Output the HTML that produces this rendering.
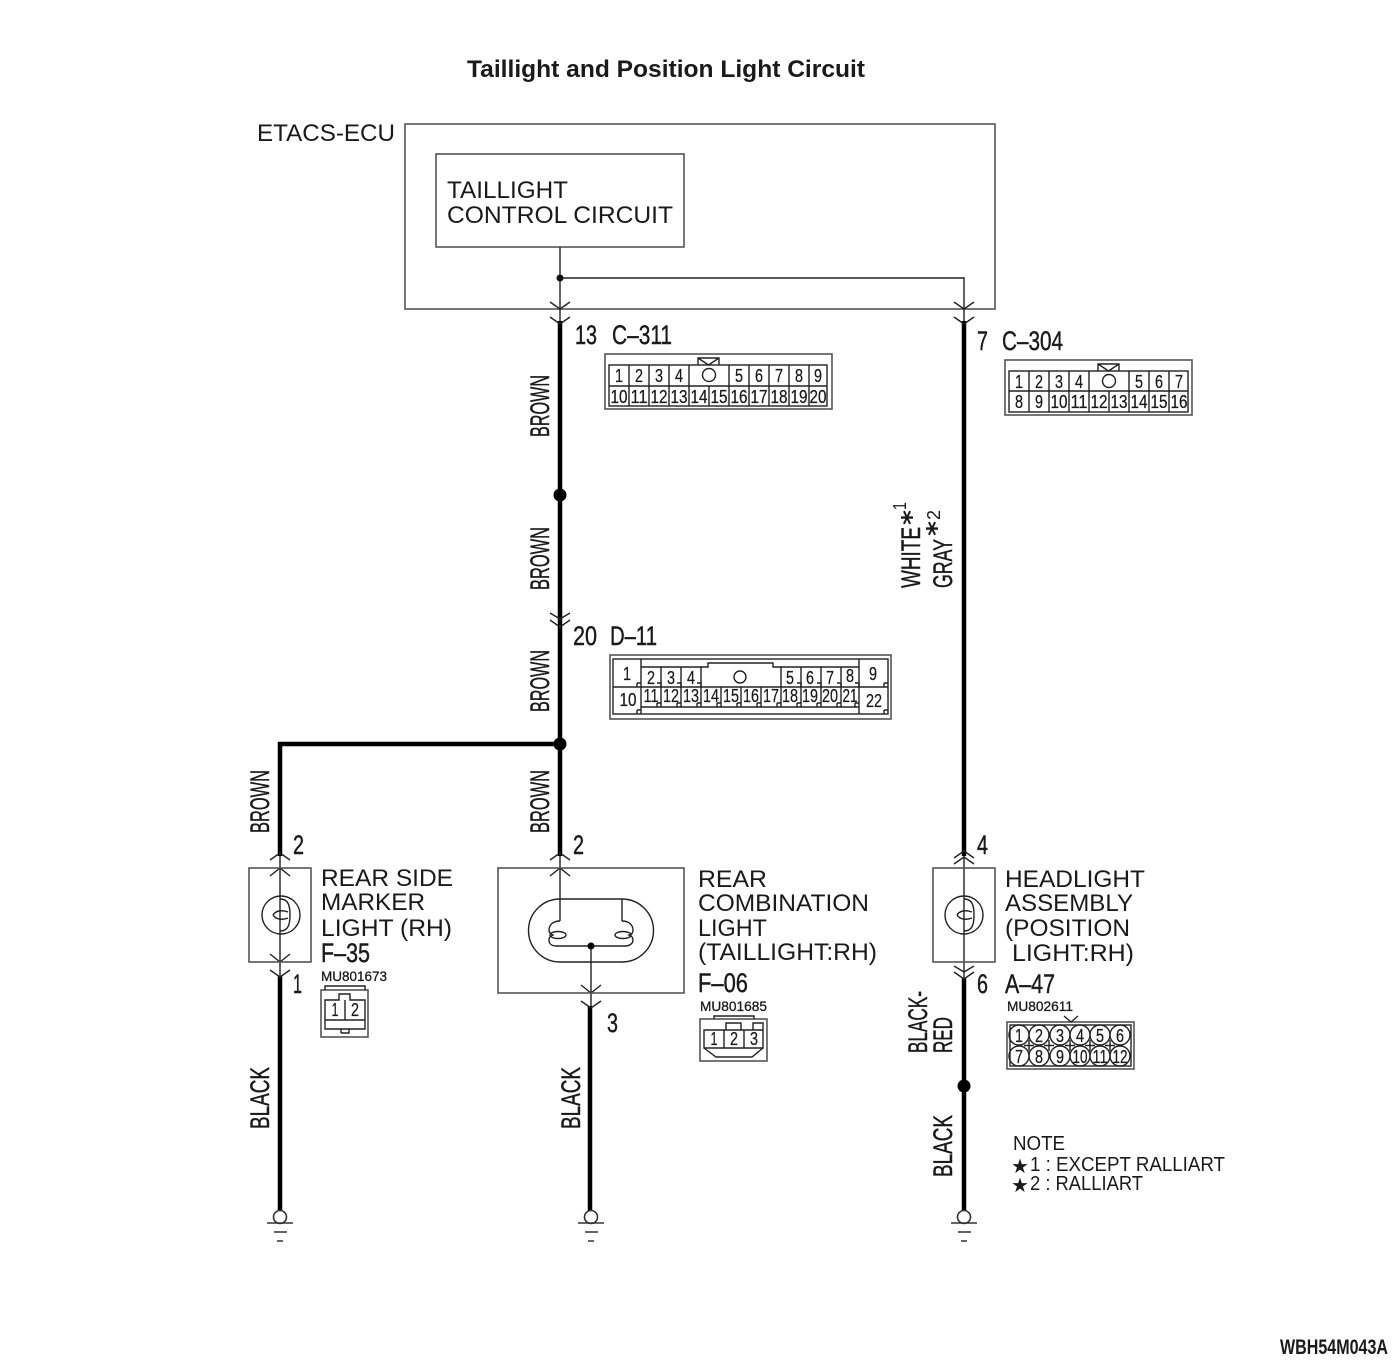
<!DOCTYPE html>
<html><head><meta charset="utf-8"><title>Taillight and Position Light Circuit</title>
<style>
html,body{margin:0;padding:0;background:#fff}
svg{display:block}
text{font-family:"Liberation Sans","DejaVu Sans",sans-serif;fill:#1a1a1a}
.t{font-size:24px}
.c{font-size:27px;stroke:#1a1a1a;stroke-width:.45}
.n{font-size:18px;text-anchor:middle;stroke:#1a1a1a;stroke-width:.25}
.m{font-size:14px;stroke:#1a1a1a;stroke-width:.3}
.l{fill:none;stroke:#333;stroke-width:1.4}
.w{fill:none;stroke:#000;stroke-width:4.5}
.s{fill:none;stroke:#222;stroke-width:1.4}
.g{fill:none;stroke:#555;stroke-width:1.6}
</style></head><body>
<svg width="1400" height="1367" viewBox="0 0 1400 1367" xmlns="http://www.w3.org/2000/svg">
<text x="467" y="77" font-size="24" font-weight="bold" textLength="398" lengthAdjust="spacingAndGlyphs">Taillight and Position Light Circuit</text>
<text class="t" x="257" y="141" textLength="138" lengthAdjust="spacingAndGlyphs">ETACS-ECU</text>
<rect class="g" x="405" y="124" width="590" height="185"/>
<rect class="g" x="436" y="154" width="248" height="93"/>
<text class="t" x="447" y="198" textLength="121" lengthAdjust="spacingAndGlyphs">TAILLIGHT</text>
<text class="t" x="447" y="223" textLength="226" lengthAdjust="spacingAndGlyphs">CONTROL CIRCUIT</text>

<!-- thin wires -->
<path class="s" d="M560 247V323M560 278H964V323M560 853V921M280 853V976M964 851V979M591 946V1007"/>
<circle cx="560" cy="278" r="3.500" fill="#111"/>
<!-- thick wires -->
<path class="w" d="M560 321V744M280 856V744H560M560 744V856M964 321V856M280 976V1212M590 1006V1212M964 978V1212"/>
<circle cx="560" cy="495" r="6.500" fill="#000"/><circle cx="560" cy="744" r="6.500" fill="#000"/><circle cx="964" cy="1086" r="6.500" fill="#000"/>
<!-- chevrons -->
<path class="s" d="M550 302L560 309L570 302M550 317L560 324L570 317M954 302L964 309L974 302M954 317L964 324L974 317M550 613L560 619L570 613M550 620L560 627L570 620"/>
<path class="s" d="M270 860L280 853L290 860M270 876L280 868L290 876M550 860L560 853L570 860M550 876L560 868L570 876M954 858L964 851L974 858M954 864L964 857L974 864"/>
<path class="s" d="M270 954L280 962L290 954M270 970L280 977L290 970M581 985L591 993L601 985M581 1001L591 1008L601 1001M954 966L964 972L974 966M954 972L964 979L974 972"/>

<!-- C-311 -->
<text class="c" x="575" y="344" textLength="22" lengthAdjust="spacingAndGlyphs">13</text>
<text class="c" x="612" y="344" textLength="60" lengthAdjust="spacingAndGlyphs">C–311</text>
<rect class="g" x="605" y="354" width="227" height="55"/>
<path class="s" d="M698 365V358H719V365M698 358L708.500 365L719 358"/>
<rect class="s" x="609" y="365" width="218" height="41"/>
<path class="s" d="M609 386H827M629 365V406M649 365V406M669 365V406M689 365V406M709 386V406M729 365V406M749 365V406M769 365V406M789 365V406M809 365V406"/>
<circle class="s" cx="709" cy="375" r="6.500"/>
<g>
<text class="n" x="619" y="382" textLength="8" lengthAdjust="spacingAndGlyphs">1</text><text class="n" x="639" y="382" textLength="8" lengthAdjust="spacingAndGlyphs">2</text><text class="n" x="659" y="382" textLength="8" lengthAdjust="spacingAndGlyphs">3</text><text class="n" x="679" y="382" textLength="8" lengthAdjust="spacingAndGlyphs">4</text><text class="n" x="739" y="382" textLength="8" lengthAdjust="spacingAndGlyphs">5</text><text class="n" x="759" y="382" textLength="8" lengthAdjust="spacingAndGlyphs">6</text><text class="n" x="779" y="382" textLength="8" lengthAdjust="spacingAndGlyphs">7</text><text class="n" x="799" y="382" textLength="8" lengthAdjust="spacingAndGlyphs">8</text><text class="n" x="818" y="382" textLength="8" lengthAdjust="spacingAndGlyphs">9</text>
<text class="n" x="619" y="403" textLength="17" lengthAdjust="spacingAndGlyphs">10</text><text class="n" x="639" y="403" textLength="17" lengthAdjust="spacingAndGlyphs">11</text><text class="n" x="659" y="403" textLength="17" lengthAdjust="spacingAndGlyphs">12</text><text class="n" x="679" y="403" textLength="17" lengthAdjust="spacingAndGlyphs">13</text><text class="n" x="699" y="403" textLength="17" lengthAdjust="spacingAndGlyphs">14</text><text class="n" x="719" y="403" textLength="17" lengthAdjust="spacingAndGlyphs">15</text><text class="n" x="739" y="403" textLength="17" lengthAdjust="spacingAndGlyphs">16</text><text class="n" x="759" y="403" textLength="17" lengthAdjust="spacingAndGlyphs">17</text><text class="n" x="779" y="403" textLength="17" lengthAdjust="spacingAndGlyphs">18</text><text class="n" x="799" y="403" textLength="17" lengthAdjust="spacingAndGlyphs">19</text><text class="n" x="818" y="403" textLength="17" lengthAdjust="spacingAndGlyphs">20</text>
</g>

<!-- C-304 -->
<text class="c" x="977" y="350" textLength="11" lengthAdjust="spacingAndGlyphs">7</text>
<text class="c" x="1002" y="350" textLength="61" lengthAdjust="spacingAndGlyphs">C–304</text>
<rect class="g" x="1005" y="360" width="187" height="55"/>
<path class="s" d="M1098 371V364H1119V371M1098 364L1108.500 371L1119 364"/>
<rect class="s" x="1009" y="371" width="179" height="41"/>
<path class="s" d="M1009 391H1188M1029 371V412M1049 371V412M1069 371V412M1089 371V412M1109 391V412M1129 371V412M1149 371V412M1169 371V412"/>
<circle class="s" cx="1109" cy="381" r="6.500"/>
<g>
<text class="n" x="1019" y="388" textLength="8" lengthAdjust="spacingAndGlyphs">1</text><text class="n" x="1039" y="388" textLength="8" lengthAdjust="spacingAndGlyphs">2</text><text class="n" x="1059" y="388" textLength="8" lengthAdjust="spacingAndGlyphs">3</text><text class="n" x="1079" y="388" textLength="8" lengthAdjust="spacingAndGlyphs">4</text><text class="n" x="1139" y="388" textLength="8" lengthAdjust="spacingAndGlyphs">5</text><text class="n" x="1159" y="388" textLength="8" lengthAdjust="spacingAndGlyphs">6</text><text class="n" x="1179" y="388" textLength="8" lengthAdjust="spacingAndGlyphs">7</text>
<text class="n" x="1019" y="408" textLength="8" lengthAdjust="spacingAndGlyphs">8</text><text class="n" x="1039" y="408" textLength="8" lengthAdjust="spacingAndGlyphs">9</text><text class="n" x="1059" y="408" textLength="17" lengthAdjust="spacingAndGlyphs">10</text><text class="n" x="1079" y="408" textLength="17" lengthAdjust="spacingAndGlyphs">11</text><text class="n" x="1099" y="408" textLength="17" lengthAdjust="spacingAndGlyphs">12</text><text class="n" x="1119" y="408" textLength="17" lengthAdjust="spacingAndGlyphs">13</text><text class="n" x="1139" y="408" textLength="17" lengthAdjust="spacingAndGlyphs">14</text><text class="n" x="1159" y="408" textLength="17" lengthAdjust="spacingAndGlyphs">15</text><text class="n" x="1179" y="408" textLength="17" lengthAdjust="spacingAndGlyphs">16</text>
</g>

<!-- D-11 -->
<text class="c" x="573" y="645" textLength="24" lengthAdjust="spacingAndGlyphs">20</text>
<text class="c" x="610" y="645" textLength="47" lengthAdjust="spacingAndGlyphs">D–11</text>
<rect class="g" x="610" y="655" width="281" height="64"/>
<rect class="s" x="613" y="659" width="275" height="55"/>
<path class="s" d="M641 659V714M859 659V714M613 687H641M859 687H888M641 667H708V663H773V667H859M641 707H859M641 687H699M781 687H859M699 687H781"/>
<path class="s" d="M661 667V707M681 667V707M701 667V707M721 687V707M741 687V707M761 687V707M781 667V707M801 667V707M821 667V707M841 667V707"/>
<path class="s" d="M637 683H641M637 683V687M637 710H641M637 710V714M884 683H888M884 683V687M884 710H888M884 710V714M657 683H661V687M677 683H681V687M697 683H701V687M797 683H801V687M817 683H821V687M837 683H841V687M855 683H859V687M657 703H661M677 703H681M697 703H701M717 703H721M737 703H741M757 703H761M777 703H781M797 703H801M817 703H821M837 703H841M855 703H859M657 703V707M677 703V707M697 703V707M717 703V707M737 703V707M757 703V707M777 703V707M797 703V707M817 703V707M837 703V707M855 703V707"/>
<circle class="s" cx="740" cy="677" r="6"/>
<g>
<text class="n" x="627" y="680" textLength="8" lengthAdjust="spacingAndGlyphs">1</text><text class="n" x="651" y="684" textLength="8" lengthAdjust="spacingAndGlyphs">2</text><text class="n" x="671" y="684" textLength="8" lengthAdjust="spacingAndGlyphs">3</text><text class="n" x="691" y="684" textLength="8" lengthAdjust="spacingAndGlyphs">4</text><text class="n" x="790" y="684" textLength="8" lengthAdjust="spacingAndGlyphs">5</text><text class="n" x="810" y="684" textLength="8" lengthAdjust="spacingAndGlyphs">6</text><text class="n" x="830" y="684" textLength="8" lengthAdjust="spacingAndGlyphs">7</text><text class="n" x="850" y="682" textLength="8" lengthAdjust="spacingAndGlyphs">8</text><text class="n" x="873" y="680" textLength="8" lengthAdjust="spacingAndGlyphs">9</text>
<text class="n" x="628" y="706" textLength="17" lengthAdjust="spacingAndGlyphs">10</text><text class="n" x="651" y="702" textLength="15" lengthAdjust="spacingAndGlyphs">11</text><text class="n" x="671" y="702" textLength="16" lengthAdjust="spacingAndGlyphs">12</text><text class="n" x="691" y="702" textLength="16" lengthAdjust="spacingAndGlyphs">13</text><text class="n" x="711" y="702" textLength="16" lengthAdjust="spacingAndGlyphs">14</text><text class="n" x="731" y="702" textLength="16" lengthAdjust="spacingAndGlyphs">15</text><text class="n" x="751" y="702" textLength="16" lengthAdjust="spacingAndGlyphs">16</text><text class="n" x="771" y="702" textLength="16" lengthAdjust="spacingAndGlyphs">17</text><text class="n" x="790" y="702" textLength="16" lengthAdjust="spacingAndGlyphs">18</text><text class="n" x="810" y="702" textLength="16" lengthAdjust="spacingAndGlyphs">19</text><text class="n" x="830" y="702" textLength="16" lengthAdjust="spacingAndGlyphs">20</text><text class="n" x="850" y="702" textLength="15" lengthAdjust="spacingAndGlyphs">21</text><text class="n" x="874" y="707" textLength="16" lengthAdjust="spacingAndGlyphs">22</text>
</g>

<!-- vertical labels -->
<text class="c" transform="translate(549,437) rotate(-90)" textLength="62" lengthAdjust="spacingAndGlyphs">BROWN</text>
<text class="c" transform="translate(549,590) rotate(-90)" textLength="63" lengthAdjust="spacingAndGlyphs">BROWN</text>
<text class="c" transform="translate(549,712) rotate(-90)" textLength="62" lengthAdjust="spacingAndGlyphs">BROWN</text>
<text class="c" transform="translate(549,833) rotate(-90)" textLength="63" lengthAdjust="spacingAndGlyphs">BROWN</text>
<text class="c" transform="translate(269,833) rotate(-90)" textLength="63" lengthAdjust="spacingAndGlyphs">BROWN</text>
<text class="c" transform="translate(269,1129) rotate(-90)" textLength="62" lengthAdjust="spacingAndGlyphs">BLACK</text>
<text class="c" transform="translate(580,1129) rotate(-90)" textLength="62" lengthAdjust="spacingAndGlyphs">BLACK</text>
<text class="c" transform="translate(952,1177) rotate(-90)" textLength="62" lengthAdjust="spacingAndGlyphs">BLACK</text>
<text class="c" transform="translate(927,1053) rotate(-90)" textLength="62" lengthAdjust="spacingAndGlyphs">BLACK-</text>
<text class="c" transform="translate(952,1053) rotate(-90)" textLength="36" lengthAdjust="spacingAndGlyphs">RED</text>
<text class="c" transform="translate(920,588) rotate(-90)" textLength="61" lengthAdjust="spacingAndGlyphs">WHITE</text>
<text font-size="26" font-weight="bold" transform="translate(920,525) rotate(-90)" style="font-family:'DejaVu Sans',sans-serif" textLength="15" lengthAdjust="spacingAndGlyphs">*</text>
<text font-size="18" transform="translate(906,510) rotate(-90)" textLength="8" lengthAdjust="spacingAndGlyphs">1</text>
<text class="c" transform="translate(952,588) rotate(-90)" textLength="49" lengthAdjust="spacingAndGlyphs">GRAY</text>
<text font-size="26" font-weight="bold" transform="translate(945,536) rotate(-90)" style="font-family:'DejaVu Sans',sans-serif" textLength="15" lengthAdjust="spacingAndGlyphs">*</text>
<text font-size="18" transform="translate(940,520) rotate(-90)" textLength="10" lengthAdjust="spacingAndGlyphs">2</text>

<!-- rear side marker -->
<text class="c" x="293" y="854" textLength="11" lengthAdjust="spacingAndGlyphs">2</text>
<text class="c" x="293" y="993" textLength="9" lengthAdjust="spacingAndGlyphs">1</text>
<rect class="g" x="249" y="868" width="62" height="94"/>
<circle class="s" cx="281" cy="915" r="19"/>
<path class="s" d="M280 899C288 899 290 905 290 915C290 925 288 931 280 931"/>
<path class="s" d="M273 915C276 910 283 910 288 912M273 915C276 920 283 920 288 918"/>
<text class="t" x="321" y="886" textLength="132" lengthAdjust="spacingAndGlyphs">REAR SIDE</text>
<text class="t" x="321" y="910" textLength="104" lengthAdjust="spacingAndGlyphs">MARKER</text>
<text class="t" x="321" y="936" textLength="131" lengthAdjust="spacingAndGlyphs">LIGHT (RH)</text>
<text class="c" x="321" y="962" textLength="49" lengthAdjust="spacingAndGlyphs">F–35</text>
<text class="m" x="321" y="981" textLength="66" lengthAdjust="spacingAndGlyphs">MU801673</text>
<rect class="g" x="321" y="990" width="47" height="47"/>
<path class="s" d="M325 990V986H365V990M325 1000H339V994H350V1000H365V1020H325ZM345 1000V1020M325 1020V1029H365V1020M341 1033H349V1029M341 1033V1029"/>
<text class="n" x="335" y="1016" textLength="7" lengthAdjust="spacingAndGlyphs">1</text>
<text class="n" x="355" y="1016" textLength="8" lengthAdjust="spacingAndGlyphs">2</text>

<!-- rear combination -->
<text class="c" x="573" y="854" textLength="11" lengthAdjust="spacingAndGlyphs">2</text>
<text class="c" x="607" y="1032" textLength="11" lengthAdjust="spacingAndGlyphs">3</text>
<rect class="g" x="498" y="868" width="186" height="125"/>
<rect class="s" x="528.500" y="899" width="125" height="63" rx="31.500"/>
<path class="s" d="M622 899V921"/>
<path class="s" d="M560 921C553 921 549 925 549 930C549 933 551 934 553 935C549 937 549 938 549 940C549 944 552 946 556 946H625C629 946 633 944 633 940C633 938 632 936 629 935C632 934 633 933 633 930C633 925 629 921 622 921"/>
<ellipse class="s" cx="558" cy="935" rx="8" ry="3.500"/><ellipse class="s" cx="623" cy="935" rx="8" ry="3.500"/>
<circle cx="591" cy="946" r="3.500" fill="#000"/>
<text class="t" x="698" y="887" textLength="69" lengthAdjust="spacingAndGlyphs">REAR</text>
<text class="t" x="698" y="911" textLength="171" lengthAdjust="spacingAndGlyphs">COMBINATION</text>
<text class="t" x="698" y="936" textLength="69" lengthAdjust="spacingAndGlyphs">LIGHT</text>
<text class="t" x="698" y="960" textLength="179" lengthAdjust="spacingAndGlyphs">(TAILLIGHT:RH)</text>
<text class="c" x="698" y="992" textLength="50" lengthAdjust="spacingAndGlyphs">F–06</text>
<text class="m" x="700" y="1011" textLength="67" lengthAdjust="spacingAndGlyphs">MU801685</text>
<rect class="g" x="700" y="1019" width="67" height="42"/>
<path class="s" d="M714 1019V1016H754V1019M704 1030H763V1048H704ZM724 1030V1048M744 1030V1048M726 1030V1023H741V1030M753 1030V1023H763V1030M704 1048L716 1057H752L763 1048"/>
<text class="n" x="714" y="1045" textLength="7" lengthAdjust="spacingAndGlyphs">1</text>
<text class="n" x="734" y="1045" textLength="8" lengthAdjust="spacingAndGlyphs">2</text>
<text class="n" x="754" y="1045" textLength="8" lengthAdjust="spacingAndGlyphs">3</text>

<!-- headlight -->
<text class="c" x="977" y="854" textLength="11" lengthAdjust="spacingAndGlyphs">4</text>
<text class="c" x="977" y="993" textLength="11" lengthAdjust="spacingAndGlyphs">6</text>
<rect class="g" x="933" y="868" width="62" height="94"/>
<circle class="s" cx="964" cy="915" r="19"/>
<path class="s" d="M964 899C972 899 974 905 974 915C974 925 972 931 964 931"/>
<path class="s" d="M957 915C960 910 967 910 972 912M957 915C960 920 967 920 972 918"/>
<text class="t" x="1005" y="887" textLength="140" lengthAdjust="spacingAndGlyphs">HEADLIGHT</text>
<text class="t" x="1005" y="911" textLength="128" lengthAdjust="spacingAndGlyphs">ASSEMBLY</text>
<text class="t" x="1005" y="936" textLength="125" lengthAdjust="spacingAndGlyphs">(POSITION</text>
<text class="t" x="1012" y="961" textLength="122" lengthAdjust="spacingAndGlyphs">LIGHT:RH)</text>
<text class="c" x="1005" y="993" textLength="50" lengthAdjust="spacingAndGlyphs">A–47</text>
<text class="m" x="1007" y="1011" textLength="66" lengthAdjust="spacingAndGlyphs">MU802611</text>
<rect class="g" x="1007" y="1022" width="127" height="47"/>
<rect class="s" x="1010" y="1025" width="121" height="41"/>
<path class="s" d="M1064 1016L1071 1022L1078 1016"/>
<g class="s">
<circle cx="1019" cy="1035" r="10"/><circle cx="1039" cy="1035" r="10"/><circle cx="1060" cy="1035" r="10"/><circle cx="1080" cy="1035" r="10"/><circle cx="1100" cy="1035" r="10"/><circle cx="1120" cy="1035" r="10"/>
<circle cx="1019" cy="1056" r="10"/><circle cx="1039" cy="1056" r="10"/><circle cx="1060" cy="1056" r="10"/><circle cx="1080" cy="1056" r="10"/><circle cx="1100" cy="1056" r="10"/><circle cx="1120" cy="1056" r="10"/>
</g>
<path class="s" d="M1029 1040V1051M1049 1040V1051M1070 1040V1051M1090 1040V1051M1110 1040V1051M1024 1045.500H1034M1044 1045.500H1054M1065 1045.500H1075M1085 1045.500H1095M1105 1045.500H1115"/>
<text class="n" x="1019" y="1042" textLength="8" lengthAdjust="spacingAndGlyphs">1</text><text class="n" x="1039" y="1042" textLength="8" lengthAdjust="spacingAndGlyphs">2</text><text class="n" x="1060" y="1042" textLength="8" lengthAdjust="spacingAndGlyphs">3</text><text class="n" x="1080" y="1042" textLength="8" lengthAdjust="spacingAndGlyphs">4</text><text class="n" x="1100" y="1042" textLength="8" lengthAdjust="spacingAndGlyphs">5</text><text class="n" x="1120" y="1042" textLength="8" lengthAdjust="spacingAndGlyphs">6</text>
<text class="n" x="1019" y="1063" textLength="8" lengthAdjust="spacingAndGlyphs">7</text><text class="n" x="1039" y="1063" textLength="8" lengthAdjust="spacingAndGlyphs">8</text><text class="n" x="1060" y="1063" textLength="8" lengthAdjust="spacingAndGlyphs">9</text><text class="n" x="1080" y="1063" textLength="15" lengthAdjust="spacingAndGlyphs">10</text><text class="n" x="1100" y="1063" textLength="15" lengthAdjust="spacingAndGlyphs">11</text><text class="n" x="1120" y="1063" textLength="15" lengthAdjust="spacingAndGlyphs">12</text>

<!-- grounds -->
<g class="g" style="stroke:#333;stroke-width:1.6">
<circle cx="280" cy="1217" r="6.500" fill="#fff"/><path d="M267 1223H293M274 1232H287M277 1241H283"/>
<circle cx="591" cy="1217" r="6.500" fill="#fff"/><path d="M578 1223H604M585 1232H598M588 1241H594"/>
<circle cx="964" cy="1217" r="6.500" fill="#fff"/><path d="M951 1223H977M958 1232H971M961 1241H967"/>
</g>

<!-- note -->
<text x="1013" y="1150" font-size="20" textLength="52" lengthAdjust="spacingAndGlyphs">NOTE</text>
<text x="1011" y="1173" font-size="20">★</text>
<text x="1030" y="1171" font-size="20" textLength="195" lengthAdjust="spacingAndGlyphs">1 : EXCEPT RALLIART</text>
<text x="1011" y="1192" font-size="20">★</text>
<text x="1030" y="1190" font-size="20" textLength="113" lengthAdjust="spacingAndGlyphs">2 : RALLIART</text>

<text x="1280" y="1354" font-size="21" font-weight="bold" textLength="108" lengthAdjust="spacingAndGlyphs">WBH54M043A</text>
</svg>
</body></html>
